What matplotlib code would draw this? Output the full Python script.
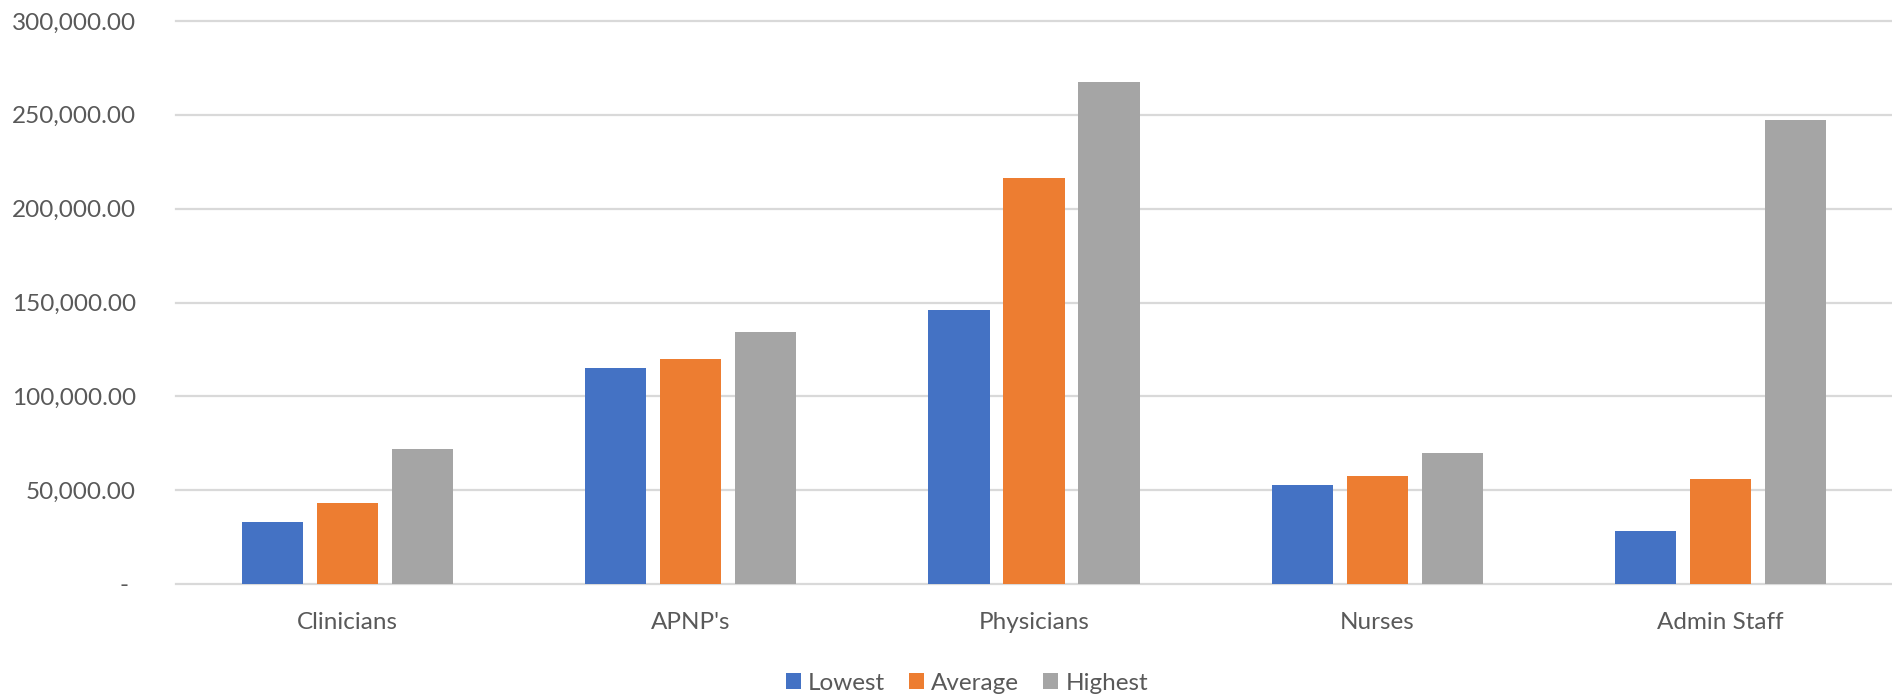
import numpy as np
import matplotlib
matplotlib.use("Agg")
import matplotlib.pyplot as plt
from matplotlib.ticker import FuncFormatter

categories = ["Clinicians", "APNP's", "Physicians", "Nurses", "Admin Staff"]
lowest = [33000, 115000, 146000, 52800, 28400]
average = [42900, 120000, 216300, 57400, 55800]
highest = [71900, 134300, 267400, 70000, 247000]
series_names = ["Lowest", "Average", "Highest"]
y_ticks = [0, 50000, 100000, 150000, 200000, 250000, 300000]

colors = ["#4472C4", "#ED7D31", "#A5A5A5"]
text_color = "#595959"
grid_color = "#D9D9D9"

plt.rcParams['font.family'] = ['Lato', 'DejaVu Sans']
plt.rcParams['font.size'] = 17.5

fig = plt.figure(figsize=(18.92, 7), dpi=100)
ax = fig.add_axes([176 / 1892, 116 / 700, 1 - 176 / 1892, (584 - 21) / 700])

x = np.arange(len(categories))
step = 0.2185
width = 0.178
for i, (name, vals) in enumerate(zip(series_names, [lowest, average, highest])):
    ax.bar(x + (i - 1) * step, vals, width, color=colors[i], label=name, zorder=3)

ax.set_xlim(-0.5, len(categories) - 0.5)
ax.set_ylim(0, 300000)
ax.set_yticks(y_ticks)
ax.yaxis.set_major_formatter(FuncFormatter(lambda v, p: '- ' if v == 0 else f'{v:,.2f}'))
ax.set_xticks(x)
ax.set_xticklabels(categories)

ax.grid(axis='y', color=grid_color, linewidth=1.6, zorder=0)
for ln in ax.get_ygridlines():
    ln.set_clip_on(False)
ax.set_axisbelow(True)
for s in ax.spines.values():
    s.set_visible(False)
ax.tick_params(axis='both', length=0, colors=text_color, labelsize=17.5)
ax.tick_params(axis='y', pad=29)
ax.tick_params(axis='x', pad=20)

fig.legend(loc='center', bbox_to_anchor=(967 / 1892, 17 / 700), ncol=3, frameon=False,
           handlelength=0.6, handleheight=0.6, handletextpad=0.3, columnspacing=1.0,
           labelcolor=text_color, fontsize=17.5)

fig.savefig("out.png", dpi=100, facecolor="white")
